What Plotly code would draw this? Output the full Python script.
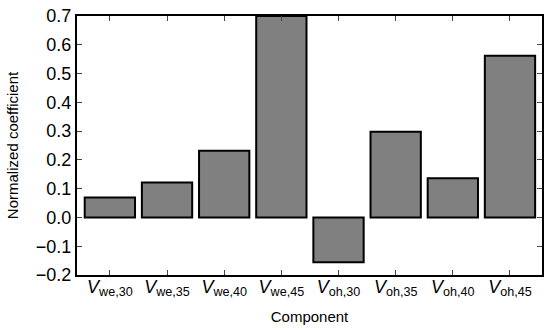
import plotly.graph_objects as go

categories = ["we,30", "we,35", "we,40", "we,45", "oh,30", "oh,35", "oh,40", "oh,45"]
values = [0.069, 0.121, 0.232, 0.70, -0.156, 0.298, 0.136, 0.562]
y_ticks = [-0.2, -0.1, 0.0, 0.1, 0.2, 0.3, 0.4, 0.5, 0.6, 0.7]
y_tick_text = ["\u22120.2", "\u22120.1", "0.0", "0.1", "0.2", "0.3", "0.4", "0.5", "0.6", "0.7"]

tick_labels = [f"<i>V</i><sub>{c}</sub>" for c in categories]
xpos = list(range(len(categories)))

fig = go.Figure(go.Bar(
    x=xpos, y=values, width=0.88,
    marker=dict(color="#808080", line=dict(color="black", width=2)),
))

FONT = "Liberation Sans, Arial, Helvetica, sans-serif"
fig.update_layout(
    width=550, height=331,
    margin=dict(l=77, r=6, t=13, b=56),
    plot_bgcolor="white", paper_bgcolor="white",
    showlegend=False,
    font=dict(family=FONT, color="black"),
)
fig.update_xaxes(
    range=[-0.575, 7.56],
    tickvals=xpos, ticktext=tick_labels,
    tickfont=dict(size=18, family=FONT),
    ticks="inside", ticklen=5, tickwidth=1, tickcolor="#444",
    ticklabelstandoff=-6,
    showline=True, linecolor="black", linewidth=2, mirror="ticks",
    showgrid=False, zeroline=False,
    title=dict(text="Component", font=dict(size=15, family=FONT), standoff=13),
)
fig.update_yaxes(
    range=[-0.2, 0.7],
    tickvals=y_ticks, ticktext=y_tick_text,
    tickfont=dict(size=18, family=FONT),
    ticks="inside", ticklen=5, tickwidth=1, tickcolor="#444",
    showline=True, linecolor="black", linewidth=2, mirror="ticks",
    showgrid=False, zeroline=False,
    title=dict(text="Normalized coefficient", font=dict(size=15, family=FONT), standoff=14),
)
fig.write_html("out.html", config={"displayModeBar": False},
               post_script="document.body.style.margin='0';")
